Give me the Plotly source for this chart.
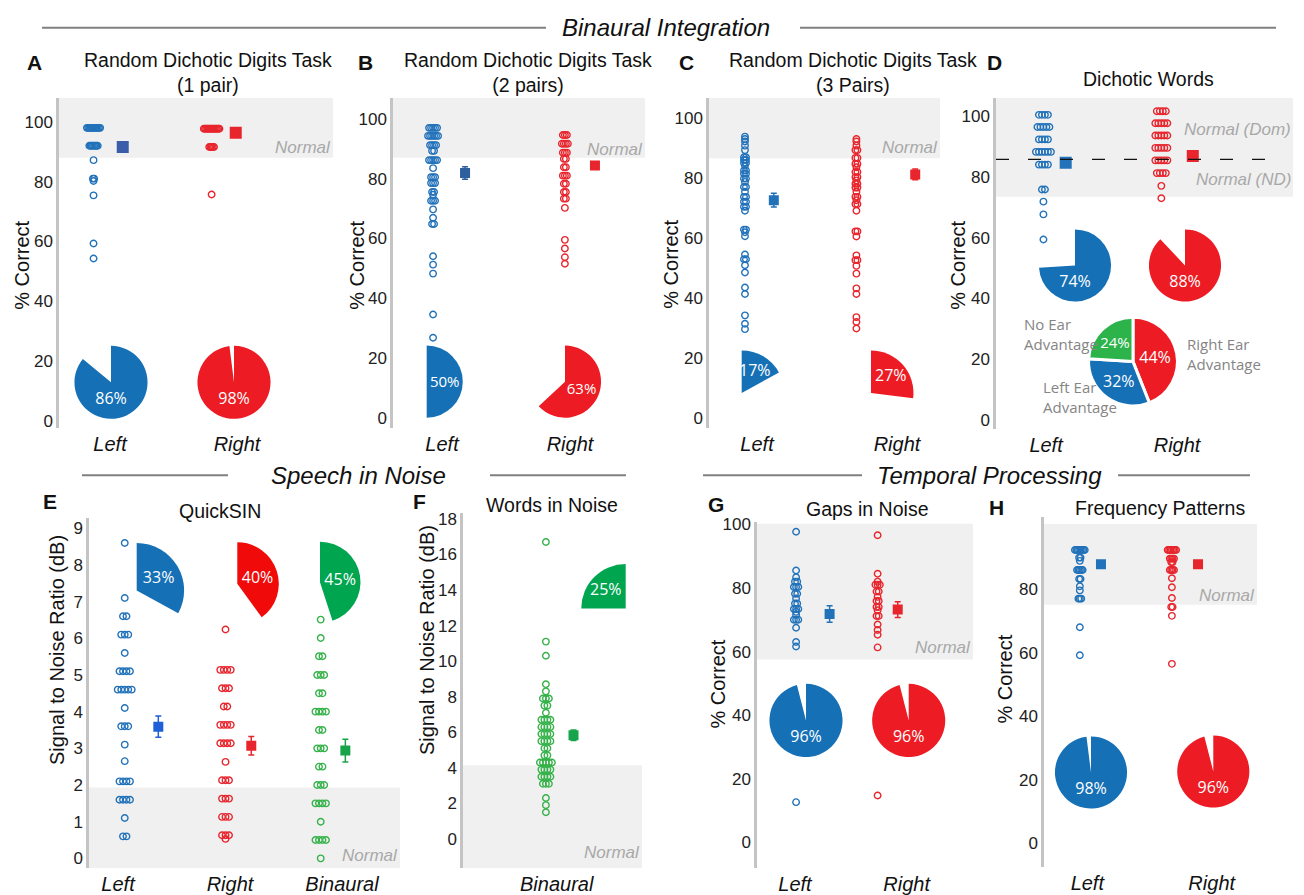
import math
import plotly.graph_objects as go

W, H = 1304, 895

# ---------------- DATA ----------------
A_left = [98]*12 + [92]*8 + [87.2, 81, 81, 80.2, 75.4, 59.3, 54.3]
A_right = [97.7]*14 + [91.6]*5 + [75.7]
A_mean = [91.6, 96.4]
A_sem = [0.8, 0.6]

B_left = ([97.0]*5 + [94.3]*6 + [91.2]*4 + [89.3]*2 + [86.2]*5 + [83.5] + [80.5]*3 + [78.5]*3 +
          [75.5]*2 + [74.6] + [72.6]*3 + [69.7, 66.9] + [64.8]*2 + [54.0, 51.2, 48.2, 34.5, 26.7])
B_right = ([94.6]*3 + [91.7]*4 + [88.7]*3 + [86.6]*2 + [83.8]*2 + [81.0]*3 + [78.3]*2 + [75.5]*2 +
           [73.3]*2 + [70.2, 59.5, 56.6, 53.7, 51.5])
B_mean = [81.9, 84.4]
B_sem = [2.1, 1.0]

C_left = ([93.7, 92.9, 92.1, 90.7, 89.2] + [86.8]*2 + [85.9]*2 + [84.9]*2 + [84.0] + [82.4]*2 +
          [81.3]*2 + [79.7]*2 + [78.6] + [76.9]*2 + [75.3] + [73.6]*2 + [72.0]*2 + [70.3]*2 + [69.0] +
          [62.7]*2 + [61.8, 60.5, 54.4] + [52.8]*2 + [50.8, 48.4, 43.4, 41.2, 34.1, 31.3, 29.5])
C_right = ([92.9, 92.1, 90.7] + [89.2]*2 + [86.6]*2 + [84.6]*2 + [83.5] + [81.9]*2 + [80.2]*2 +
           [79.1] + [78.0]*2 + [76.7]*2 + [75.3] + [73.6]*2 + [72.5] + [71.2]*2 + [69.0] +
           [62.1]*2 + [60.4, 54.1] + [52.5]*2 + [50.6, 48.0, 43.1, 41.2, 33.5, 31.9, 29.7])
C_mean = [72.5, 81.1]
C_sem = [2.3, 1.8]

D_left = [100.5]*4 + [96.5]*5 + [92.4]*4 + [88.3]*6 + [84.1]*4 + [75.9]*2 + [71.9, 67.7, 59.4]
D_right = [101.7]*4 + [97.7]*5 + [93.7]*5 + [89.6]*5 + [85.5]*5 + [81.3]*4 + [77.1, 73.0]
D_mean = [84.7, 86.9]
D_sem = [1.0, 1.0]
D_dom_cutoff = 85.8

E_left = ([8.6, 7.1] + [6.6]*2 + [6.1]*3 + [5.6] + [5.1]*4 + [4.6]*5 + [4.1] + [3.6]*3 +
          [3.1, 2.65] + [2.1]*4 + [1.6]*4 + [1.1] + [0.6]*2)
E_right = ([6.24] + [5.14]*4 + [4.64]*3 + [4.14]*2 + [3.64]*4 + [3.14]*4 + [2.63] + [2.13]*3 +
           [1.63]*3 + [1.13]*3 + [0.63]*3 + [0.53])
E_bin = ([6.51, 6.01] + [5.51]*2 + [5.0]*3 + [4.5]*2 + [4.0]*4 + [3.5]*2 + [3.0]*3 + [2.5]*2 +
         [2.0]*3 + [1.5]*4 + [1.0] + [0.5]*4 + [0.0])
E_mean = [3.59, 3.07, 2.94]
E_sem = [0.29, 0.25, 0.31]

F_bin = ([16.7, 11.1, 10.3, 8.7, 8.3] + [7.9]*3 + [7.5]*2 + [7.1] + [6.7]*4 + [6.3]*4 + [5.9]*4 +
         [5.5]*4 + [5.1]*2 + [4.7]*2 + [4.3]*5 + [3.9]*4 + [3.5]*4 + [3.1]*3 + [2.3, 1.9, 1.5])
F_mean = [5.83]
F_sem = [0.3]

G_left = ([97.7, 85.5, 83.4] + [82]*2 + [80.3]*3 + [78.2]*2 + [76.7] + [75.1]*2 + [73.4]*3 +
          [72.5, 71.5] + [70]*3 + [67.5, 63, 61.6, 12.6])
G_right = ([96.6, 84.5, 82] + [81]*3 + [78.9]*2 + [77.2] + [75.9]*2 + [74]*2 + [73] + [71.2]*2 +
           [68.5, 66.8, 65.3, 61.3, 14.7])
G_mean = [71.8, 73.2]
G_sem = [2.6, 2.5]

H_left = [92.3]*8 + [89.9]*2 + [88.9] + [86]*5 + [83.2]*2 + [80.9, 79.6] + [77]*3 + [68, 59.2]
H_right = [92.3]*7 + [89.6]*4 + [88.5]*2 + [86]*4 + [83.4, 80.6, 77.2] + [74.4]*2 + [71.6, 56.5]
H_mean = [87.8, 87.8]
H_sem = [0.8, 0.8]

# normal ranges (lower, upper)
A_normal = [88, 110]
B_normal = [87, 110]
C_normal = [86.5, 110]
D_normal = [73.5, 110]
E_normal = [-5, 1.93]
F_normal = [-5, 4.15]
G_normal = [57.5, 100.2]
H_normal = [75.1, 100.5]

# percent of participants (pie charts)
A_pct = [86, 98]
B_pct = [50, 63]
C_pct = [17, 27]
D_pct = [74, 88]
D_ear_pct = [44, 32, 24]
D_ear_labels = ["Right Ear<br>Advantage", "Left Ear<br>Advantage", "No Ear<br>Advantage"]
E_pct = [33, 40, 45]
F_pct = [25]
G_pct = [96, 96]
H_pct = [98, 96]

LR = ["Left", "Right"]
LRB = ["Left", "Right", "Binaural"]
B_only = ["Binaural"]

# ---------------- STYLE ----------------
BLUE = "#2272ba"
RED = "#e8252d"
GREEN = "#36b24a"
PBLUE = "#1570b6"
PRED = "#ed1c24"
PGREEN = "#00a550"
FONT = "Liberation Sans, Arial, sans-serif"
PFONT = "Open Sans, sans-serif"


def fx(px):
    return px / W


def fy(py):
    return 1 - py / H


panels = [
    dict(name="A", xd=(59, 333), yd=(93, 427), xr=(0.598, 2.756), yr=(-2.31, 108.03),
         cats=LR, groups=[A_left, A_right], mean=A_mean, sem=A_sem,
         cols=[BLUE, RED], mcols=["#3b5da9", RED], poff=[-0.13, -0.20], moff=[0.10, -0.01],
         msize=12, step=1.2, ppx=127, ppy=3.027, yt=list(range(0, 101, 20)), normal=A_normal,
         ntext=[("Normal", 91.5)]),
    dict(name="B", xd=(393, 645), yd=(93, 427), xr=(0.617, 2.586), yr=(-3.41, 107.04),
         cats=LR, groups=[B_left, B_right], mean=B_mean, sem=B_sem,
         cols=[BLUE, RED], mcols=["#2e5e9e", RED], poff=[-0.07, -0.04], moff=[0.18, 0.195],
         msize=10, step=2.0, ppx=128, ppy=3.024, yt=list(range(0, 101, 20)), normal=B_normal,
         ntext=[("Normal", 89.8)]),
    dict(name="C", xd=(709, 940), yd=(93, 427), xr=(0.657, 2.307), yr=(-3.39, 106.63),
         cats=LR, groups=[C_left, C_right], mean=C_mean, sem=C_sem,
         cols=[BLUE, RED], mcols=[BLUE, RED], poff=[-0.086, -0.29], moff=[0.12, 0.13],
         msize=10, step=2.0, ppx=140, ppy=3.034, yt=list(range(0, 101, 20)), normal=C_normal,
         ntext=[("Normal", 90.2)]),
    dict(name="D", xd=(996, 1293), yd=(93, 428), xr=(0.618, 2.885), yr=(-2.93, 106.09),
         cats=LR, groups=[D_left, D_right], mean=D_mean, sem=D_sem,
         cols=[BLUE, RED], mcols=[BLUE, RED], poff=[-0.02, -0.12], moff=[0.15, 0.12],
         msize=12, step=3.0, ppx=131, ppy=3.073, yt=list(range(0, 101, 20)), normal=D_normal,
         ntext=[("Normal (Dom)", 95.5), ("Normal (ND)", 79.1)]),
    dict(name="E", xd=(89, 400), yd=(518, 873), xr=(0.741, 3.518), yr=(-0.27, 9.29),
         cats=LRB, groups=[E_left, E_right, E_bin], mean=E_mean, sem=E_sem,
         cols=[BLUE, RED, GREEN], mcols=["#1f5fd8", RED, "#17a34a"], poff=[0.06, -0.04, -0.19],
         moff=[0.36, 0.19, 0.03], msize=10, step=3.5, ppx=112, ppy=37.13, yt=list(range(0, 10)),
         normal=E_normal, ntext=[("Normal", 0.07)]),
    dict(name="F", xd=(463, 642), yd=(513, 873), xr=(0.219, 1.711), yr=(-1.65, 18.35),
         cats=B_only, groups=[F_bin], mean=F_mean, sem=F_sem,
         cols=[GREEN], mcols=["#17a34a"], poff=[-0.09], moff=[0.14],
         msize=10, step=3.0, ppx=120, ppy=18.0, yt=list(range(0, 19, 2)), normal=F_normal,
         ntext=[("Normal", -0.74)]),
    dict(name="G", xd=(757, 973), yd=(522, 873), xr=(0.66, 2.594), yr=(-8.2, 100.9),
         cats=LR, groups=[G_left, G_right], mean=G_mean, sem=G_sem,
         cols=[BLUE, RED], mcols=[BLUE, RED], poff=[0.01, -0.26], moff=[0.31, -0.08],
         msize=10, step=2.2, ppx=111.7, ppy=3.217, yt=list(range(0, 101, 20)), normal=G_normal,
         ntext=[("Normal", 61.3)]),
    dict(name="H", xd=(1044, 1257), yd=(517, 872), xr=(0.652, 2.364), yr=(-7.5, 102.8),
         cats=LR, groups=[H_left, H_right], mean=H_mean, sem=H_sem,
         cols=[BLUE, RED], mcols=[BLUE, RED], poff=[-0.06, -0.32], moff=[0.11, -0.11],
         msize=10, step=1.4, ppx=124.4, ppy=3.22, yt=list(range(0, 81, 20)), normal=H_normal,
         ntext=[("Normal", 78.0)]),
]


def swarm(vals, step):
    offs = [0.0] * len(vals)
    groups = {}
    for i, v in enumerate(vals):
        groups.setdefault(round(v, 2), []).append(i)
    for idx in groups.values():
        n = len(idx)
        for k, i in enumerate(idx):
            offs[i] = (k - (n - 1) / 2) * step
    return offs


fig = go.Figure()
layout = dict(width=W, height=H, margin=dict(l=0, r=0, t=0, b=0),
              paper_bgcolor="white", plot_bgcolor="white", showlegend=False,
              hovermode=False, font=dict(family=FONT, color="#222"))
shapes = []
annotations = []

for i, p in enumerate(panels, start=1):
    xa = "x" if i == 1 else f"x{i}"
    ya = "y" if i == 1 else f"y{i}"
    xkey = "xaxis" if i == 1 else f"xaxis{i}"
    ykey = "yaxis" if i == 1 else f"yaxis{i}"
    layout[xkey] = dict(domain=[fx(p["xd"][0]), fx(p["xd"][1])], range=list(p["xr"]), anchor=ya,
                        showline=False, showgrid=False, zeroline=False, ticks="",
                        tickvals=list(range(1, len(p["cats"]) + 1)), ticktext=p["cats"],
                        tickfont=dict(size=20, color="#111", family=FONT, style="italic"),
                        ticklabelstandoff=2)
    layout[ykey] = dict(domain=[fy(p["yd"][1]), fy(p["yd"][0])], range=list(p["yr"]), anchor=xa,
                        showline=True, linecolor="#c4c4c4", linewidth=2.5, showgrid=False,
                        zeroline=False, ticks="", tickvals=p["yt"],
                        tickfont=dict(size=17, color="#222", family=FONT), ticklabelstandoff=0)
    lo = max(p["normal"][0], p["yr"][0])
    hi = min(p["normal"][1], p["yr"][1])
    shapes.append(dict(type="rect", xref=f"{xa} domain", yref=ya, x0=0, x1=1, y0=lo, y1=hi,
                       fillcolor="#f0f0f0", line=dict(width=0), layer="below"))
    for txt, yv in p["ntext"]:
        annotations.append(dict(text=txt, xref=f"{xa} domain", yref=ya, x=1, y=yv,
                                xanchor="right", yanchor="middle", showarrow=False,
                                font=dict(size=17, color="#a8a8a8", family=FONT, style="italic")))
    step = p["step"] / p["ppx"]
    for g, vals in enumerate(p["groups"]):
        offs = swarm(vals, step)
        fig.add_trace(go.Scatter(
            x=[g + 1 + p["poff"][g] + o for o in offs], y=vals, mode="markers", xaxis=xa, yaxis=ya,
            marker=dict(symbol="circle-open", size=6.5, color=p["cols"][g], line=dict(width=1.4)),
            hoverinfo="skip"))
        fig.add_trace(go.Scatter(
            x=[g + 1 + p["moff"][g]], y=[p["mean"][g]], mode="markers", xaxis=xa, yaxis=ya,
            marker=dict(symbol="square", size=p["msize"], color=p["mcols"][g], line=dict(width=0)),
            error_y=dict(type="data", array=[p["sem"][g]], color=p["mcols"][g], thickness=1.5,
                         width=3),
            hoverinfo="skip"))

# dashed cutoff line in D
shapes.append(dict(type="line", xref="x4 domain", yref="y4", x0=0.0, x1=0.95,
                   y0=D_dom_cutoff, y1=D_dom_cutoff,
                   line=dict(color="#111", width=1.3, dash="13px,19px")))


def pie(cx, cy, r, values, colors, texts, rotation=0, line_w=0, size=16):
    return go.Pie(values=values, marker=dict(colors=colors, line=dict(color="white", width=line_w)),
                  sort=False, direction="clockwise", rotation=rotation, text=texts,
                  textinfo="text", textposition="inside", insidetextorientation="horizontal",
                  textfont=dict(color="white", size=size, family=PFONT),
                  domain=dict(x=[fx(cx - r), fx(cx + r)], y=[fy(cy + r), fy(cy - r)]),
                  hoverinfo="skip", showlegend=False)


def part(cx, cy, r, pct, color, rotation=0):
    small = pct < 30
    fig.add_trace(pie(cx, cy, r, [pct, 100 - pct], [color, "rgba(0,0,0,0)"],
                      ["" if small else f"{pct}%", ""], rotation=rotation))
    if small:
        # label of a narrow slice: drawn at the slice's mid-angle so it keeps full size
        ang = math.radians(rotation + pct / 100 * 180)
        tx = cx + math.sin(ang) * 0.62 * r
        ty = cy - math.cos(ang) * 0.62 * r
        annotations.append(dict(text=f"{pct}%", xref="paper", yref="paper", x=fx(tx), y=fy(ty),
                                xanchor="center", yanchor="middle", showarrow=False,
                                font=dict(size=16, color="white", family=PFONT)))


pie_geo = {
    "A": [(111, 381, 37), (234, 381, 37)],
    "B": [(426.7, 380.3, 36.5), (565, 380.3, 36.5)],
    "C": [(741.7, 391.7, 43), (871, 391.7, 43)],
    "D": [(1075, 262.7, 36.5), (1185, 262.7, 36.5)],
    "E": [(136.7, 591.7, 48), (237.3, 585, 42), (320, 583.3, 41)],
    "G": [(806, 723.3, 37), (908.7, 723.3, 37)],
    "H": [(1091, 776, 36.5), (1213.3, 775, 36.5)],
}
pie_pcts = {"A": A_pct, "B": B_pct, "C": C_pct, "D": D_pct, "E": E_pct, "G": G_pct, "H": H_pct}
pie_cols = {"A": [PBLUE, PRED], "B": [PBLUE, PRED], "C": [PBLUE, PRED], "D": [PBLUE, PRED],
            "E": [PBLUE, "#f00a0a", PGREEN], "G": [PBLUE, PRED], "H": [PBLUE, PRED]}
for k, geo in pie_geo.items():
    for (cx, cy, r), pct, col in zip(geo, pie_pcts[k], pie_cols[k]):
        part(cx, cy, r, pct, col)
# F: the quarter sits in the upper-left quadrant (9 -> 12 o'clock)
part(625.7, 610, 45, F_pct[0], PGREEN, rotation=-90)

# ear advantage pie
fig.add_trace(pie(1133, 360, 45, D_ear_pct, [PRED, PBLUE, "#2cb34a"],
                  [f"{v}%" for v in D_ear_pct], line_w=3))
for txt, (px, py) in zip(D_ear_labels, [(1185, 352.5), (1040.7, 396), (1021.7, 332)]):
    annotations.append(dict(text=txt, xref="paper", yref="paper", x=fx(px), y=fy(py),
                            xanchor="left", yanchor="middle", align="left", showarrow=False,
                            font=dict(size=15, color="#858585", family=PFONT)))

titles = [
    ("Random Dichotic Digits Task<br>(1 pair)", 208, 67.5),
    ("Random Dichotic Digits Task<br>(2 pairs)", 528, 67.5),
    ("Random Dichotic Digits Task<br>(3 Pairs)", 853, 67.5),
    ("Dichotic Words", 1148, 74),
    ("QuickSIN", 220, 511),
    ("Words in Noise", 552, 505),
    ("Gaps in Noise", 867, 509),
    ("Frequency Patterns", 1160, 508),
]
for txt, px, py in titles:
    annotations.append(dict(text=txt, xref="paper", yref="paper", x=fx(px), y=fy(py),
                            xanchor="center", yanchor="middle", showarrow=False,
                            font=dict(size=19.5, color="#111", family=FONT)))

letters = [("A", 34, 57), ("B", 365, 57), ("C", 686, 57), ("D", 994, 57),
           ("E", 50, 502), ("F", 420, 502), ("G", 716, 505), ("H", 996, 508)]
for txt, px, py in letters:
    annotations.append(dict(text=f"<b>{txt}</b>", xref="paper", yref="paper", x=fx(px), y=fy(py),
                            xanchor="center", yanchor="middle", showarrow=False,
                            font=dict(size=21, color="#111", family=FONT)))

ytitles = [("% Correct", 22, 263), ("% Correct", 357, 262), ("% Correct", 671, 262),
           ("% Correct", 958, 263), ("Signal to Noise Ratio (dB)", 57, 652),
           ("Signal to Noise Ratio (dB)", 427, 642), ("% Correct", 718, 687),
           ("% Correct", 1005, 682)]
for txt, px, py in ytitles:
    annotations.append(dict(text=txt, xref="paper", yref="paper", x=fx(px), y=fy(py),
                            xanchor="center", yanchor="middle", textangle=-90, showarrow=False,
                            font=dict(size=20, color="#111", family=FONT)))

sections = [("Binaural Integration", 666, 22, [(42, 546), (800, 1276)]),
            ("Speech in Noise", 358, 475, [(82, 228), (490, 626)]),
            ("Temporal Processing", 990, 475, [(703, 862), (1118, 1250)])]
for txt, px, py, segs in sections:
    annotations.append(dict(text=txt, xref="paper", yref="paper", x=fx(px), y=fy(py),
                            xanchor="center", yanchor="middle", showarrow=False,
                            font=dict(size=24, color="#111", family=FONT, style="italic")))
    for a, b in segs:
        shapes.append(dict(type="line", xref="paper", yref="paper", x0=fx(a), x1=fx(b),
                           y0=fy(py), y1=fy(py), line=dict(color="#808080", width=2)))

layout["shapes"] = shapes
layout["annotations"] = annotations
fig.update_layout(**layout)

# pin the figure to the top-left corner of the page (no body margin)
post = ("document.body.style.margin='0';document.body.style.overflow='hidden';"
        "var gd=document.getElementById('{plot_id}');gd.style.position='absolute';"
        "gd.style.left='0px';gd.style.top='0px';")
fig.write_html("out.html", post_script=post, config={"displayModeBar": False})
